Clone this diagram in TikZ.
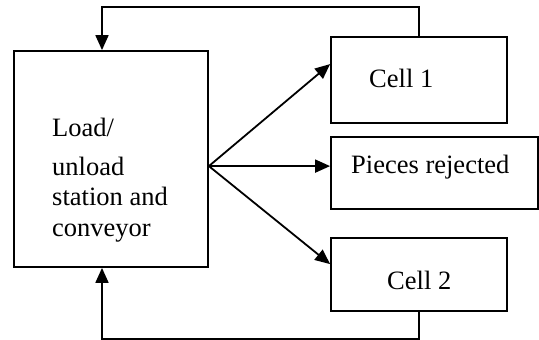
\documentclass[tikz,border=0pt]{standalone}
\usepackage{fontspec}
\setmainfont{Liberation Serif}
\usetikzlibrary{arrows.meta, calc}

\begin{document}
\begin{tikzpicture}[
        x=1pt, y=-1pt,
        font=\fontsize{26.5}{30.5}\selectfont,
        box/.style={rectangle, draw=black, line width=1.8pt, inner sep=0pt},
        txt/.style={inner sep=0pt, anchor=base west, align=left},
        arrow/.style={-{Triangle[length=15pt, width=13pt]}, line width=1.8pt}
    ]
        \useasboundingbox (0,0) rectangle (539,340);

        % Station on the left, destinations on the right
        \node[box, minimum width=194pt, minimum height=216pt] (load) at (111,159) {};
        \node[box, minimum width=176pt, minimum height=86pt] (cell1) at (419,80) {};
        \node[box, minimum width=207pt, minimum height=72pt] (rej) at (434.5,173) {};
        \node[box, minimum width=176pt, minimum height=73pt] (cell2) at (419,274.5) {};

        % Texts (base of the last line)
        \node[txt] (loadtxt) at (52,236) {Load/\\[8pt]unload\\station and\\conveyor};
        \node[txt] (cell1txt) at (369,87) {Cell 1};
        \node[txt] (rejtxt) at (351,173) {Pieces rejected};
        \node[txt] (cell2txt) at (387,289) {Cell 2};

        % --- Arrows ---
        \coordinate (hub) at ($(load.north east)+(0,116)$);
        \draw[arrow] (hub) -- ($(cell1.north west)+(0,28)$);
        \draw[arrow] (hub) -- (hub -| rej.west);
        \draw[arrow] (hub) -- ($(cell2.north west)+(0,27)$);

        % Return lines back to the station
        \draw[arrow] (cell1.north) -- ++(0,-29) -| ([xshift=-9pt]load.north);
        \draw[arrow] (cell2.south) -- ++(0,27) -| ([xshift=-9pt]load.south);
    \end{tikzpicture}
\end{document}
